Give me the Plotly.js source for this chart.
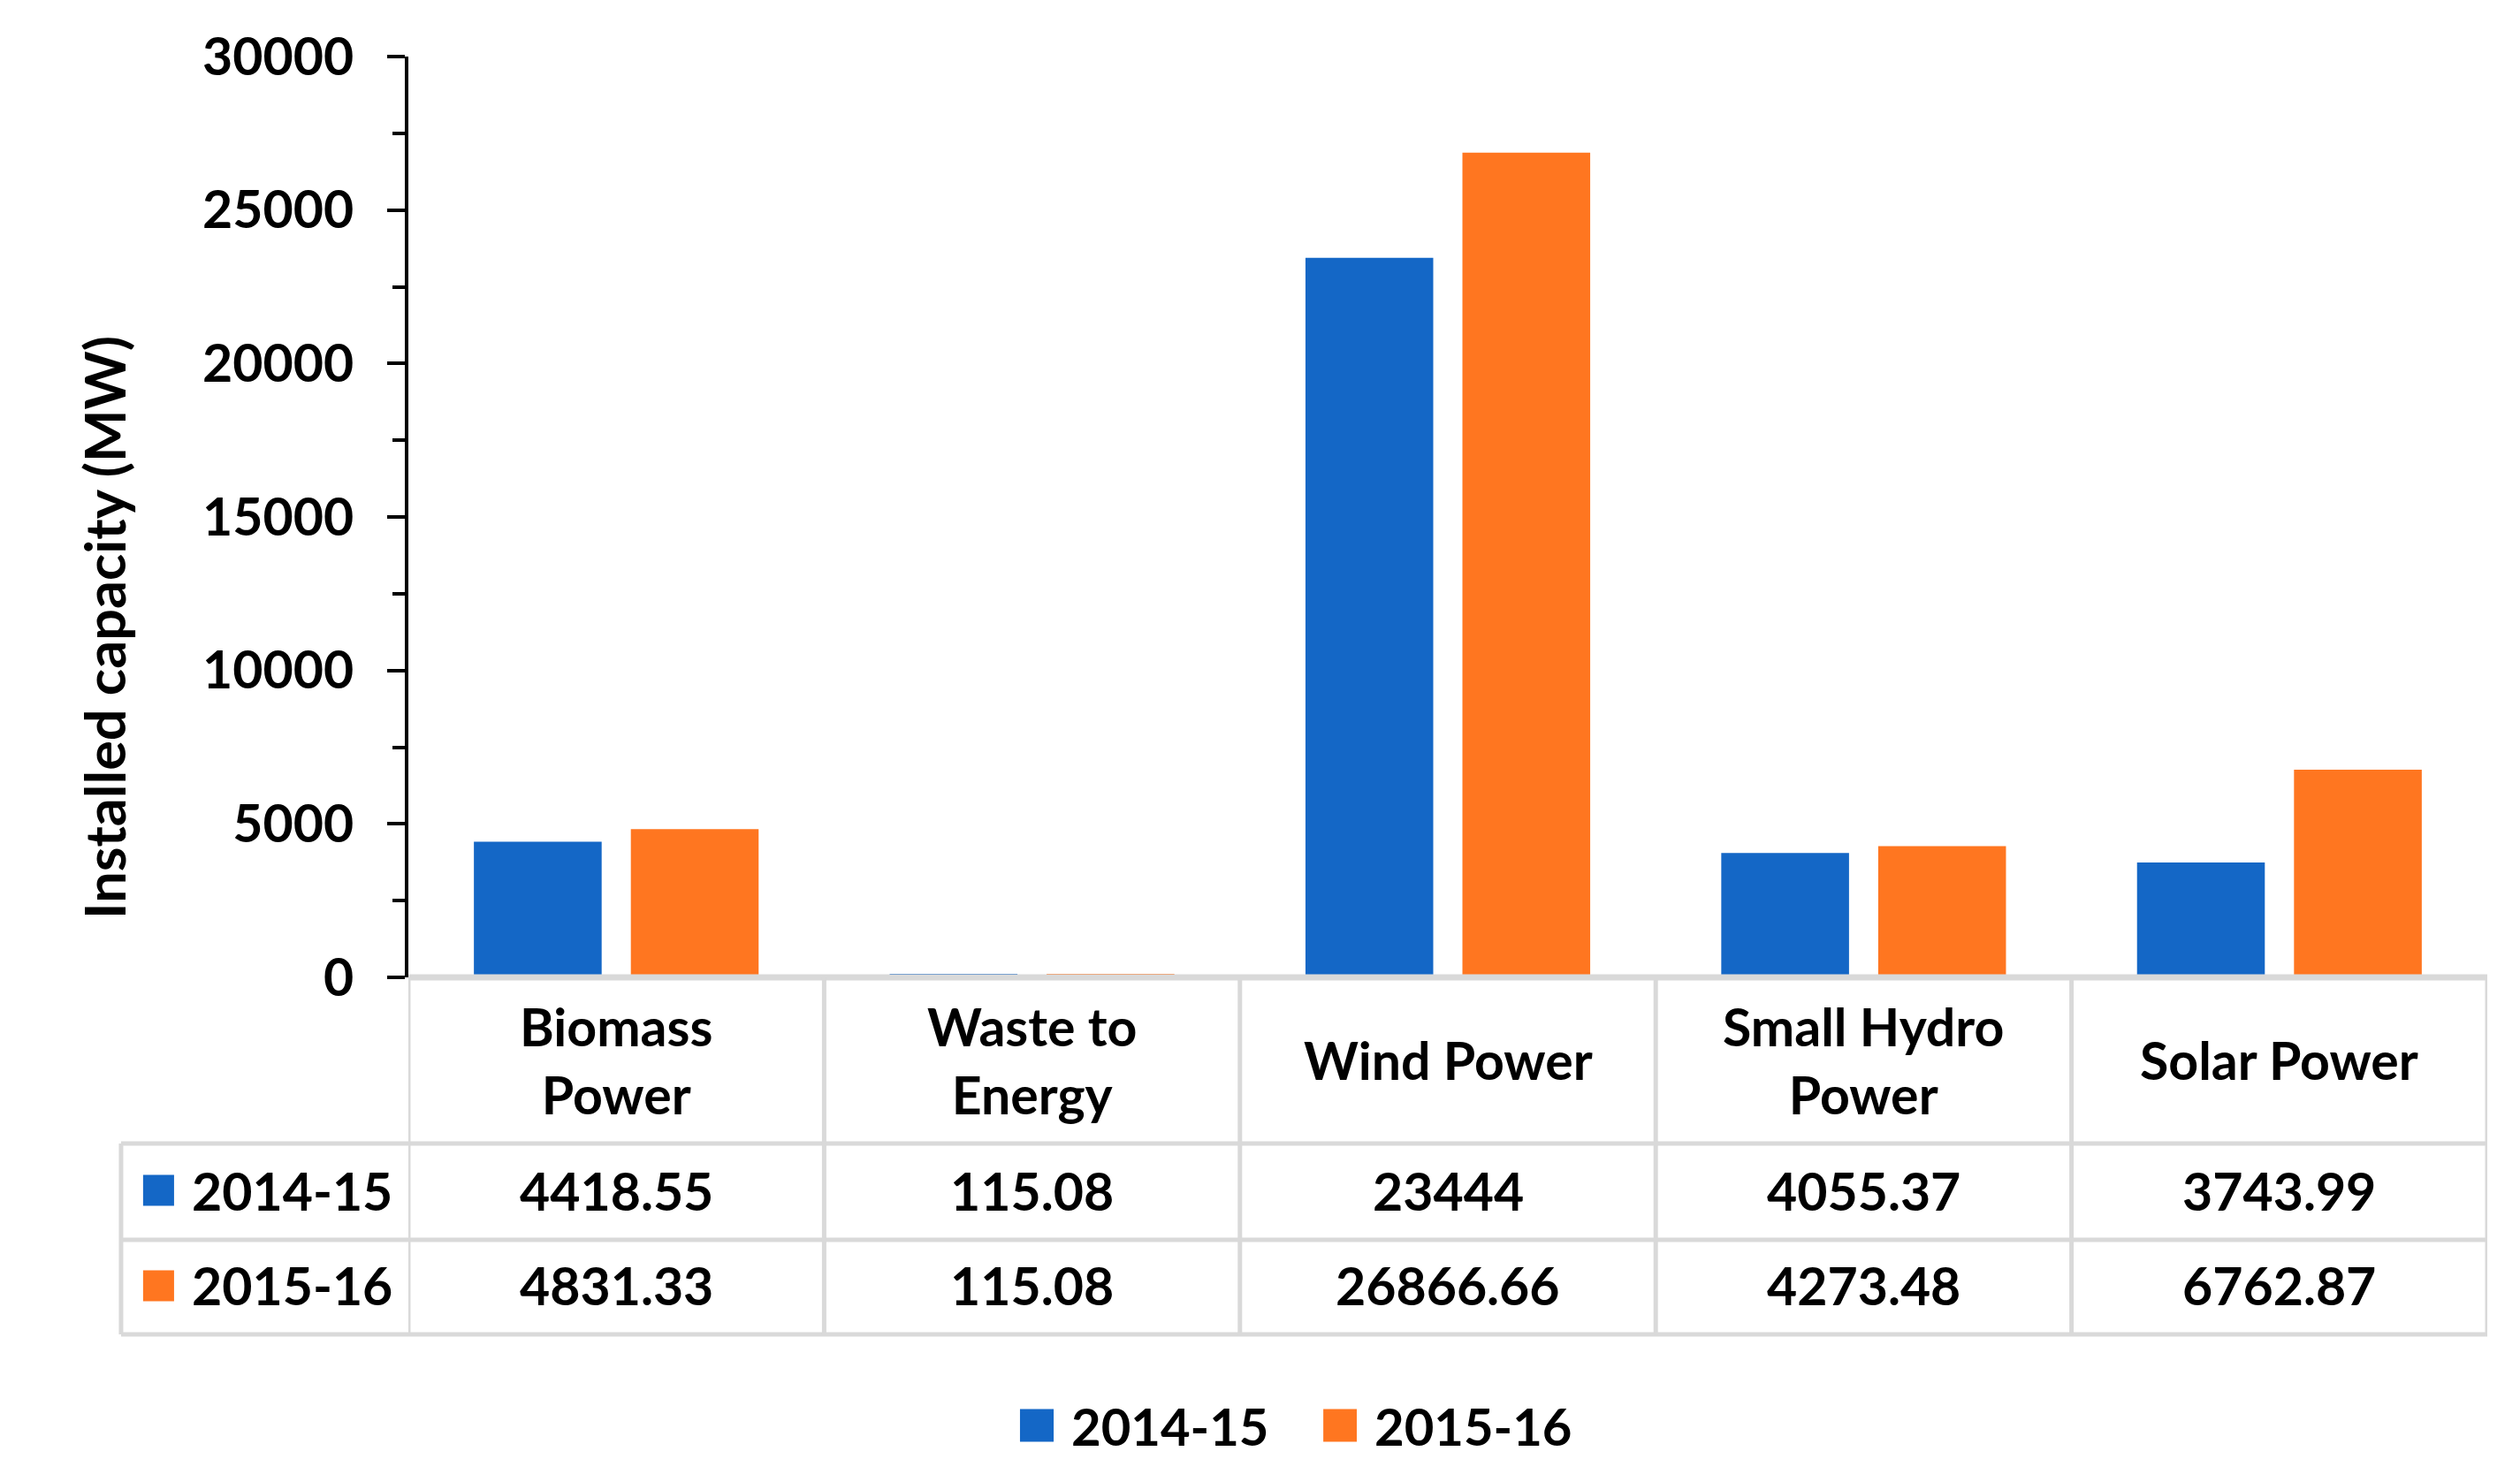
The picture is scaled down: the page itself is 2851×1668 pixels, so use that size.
<!DOCTYPE html>
<html>
<head>
<meta charset="utf-8">
<script src="https://cdn.plot.ly/plotly-3.0.1.min.js"></script>
<style>
  html, body { margin: 0; padding: 0; background: #ffffff; }
  #chart { width: 2851px; height: 1668px; }
</style>
</head>
<body>
<div id="chart"></div>
<script>
// ---- data ----
const categories = ["Biomass Power", "Waste to Energy", "Wind Power", "Small Hydro Power", "Solar Power"];
const categoryLabels = ["Biomass<br>Power", "Waste to<br>Energy", "Wind Power", "Small Hydro<br>Power", "Solar Power"];
const seriesNames = ["2014-15", "2015-16"];
const values2014 = [4418.55, 115.08, 23444, 4055.37, 3743.99];
const values2015 = [4831.33, 115.08, 26866.66, 4273.48, 6762.87];
const yTickValues = [0, 5000, 10000, 15000, 20000, 25000, 30000];
const yTitle = "Installed capacity (MW)";

// ---- styles ----
const colors = ["#1467c6", "#ff7620"];
const FONT = "Lato, 'Open Sans', sans-serif";
const txtFont = { family: FONT, size: 59, color: "#000000", weight: 700 };
const legFont = { family: FONT, size: 58, color: "#000000", weight: 700 };
const gridColor = "#d9d9d9";
const gridW = 5;

const seriesValues = [values2014, values2015];
const xIdx = categories.map((c, i) => i);

const traces = seriesNames.map((name, s) => ({
  type: "bar",
  name: name,
  x: xIdx,
  y: seriesValues[s],
  marker: { color: colors[s], line: { width: 0 } },
  showlegend: false,
  hoverinfo: "x+y+name"
}));

// Table geometry (paper units, relative to plot area)
const yHeadMid = -0.0902, yHeadBot = -0.1804;
const yRowMid = [-0.2313, -0.3349];
const yRowBot = [-0.2850, -0.3877];
const xTableLeft = -0.1382;
const xKey0 = -0.1276, xKey1 = -0.1127, xKeyText = -0.1050;
const keyH = 0.0168;

const shapes = [];
const annotations = [];

function hline(x0, x1, xref, y, w) {
  shapes.push({ type: "line", xref: xref, yref: "paper", x0: x0, x1: x1, y0: y, y1: y,
    line: { color: gridColor, width: w || gridW } });
}
function vline(x, xref, y0, y1) {
  shapes.push({ type: "line", xref: xref, yref: "paper", x0: x, x1: x, y0: y0, y1: y1,
    line: { color: gridColor, width: gridW } });
}

// top border (category axis baseline)
hline(-0.5, categories.length - 0.5, "x", 0, 7);
// row lines
[yHeadBot, yRowBot[0], yRowBot[1]].forEach(y => hline(xTableLeft, 1, "paper", y));
// vertical separators
for (let i = 0; i <= categories.length; i++) {
  vline(i - 0.5, "x", 0, yRowBot[1]);
}
vline(xTableLeft, "paper", yHeadBot, yRowBot[1]);

// header labels
categoryLabels.forEach((lab, i) => {
  annotations.push({ xref: "x", yref: "paper", x: i, y: yHeadMid, text: lab, showarrow: false,
    xanchor: "center", yanchor: "middle", align: "center", font: txtFont });
});

// rows
seriesNames.forEach((name, s) => {
  shapes.push({ type: "rect", xref: "paper", yref: "paper", x0: xKey0, x1: xKey1,
    y0: yRowMid[s] - keyH, y1: yRowMid[s] + keyH, fillcolor: colors[s], line: { width: 0 } });
  annotations.push({ xref: "paper", yref: "paper", x: xKeyText, y: yRowMid[s], text: name,
    showarrow: false, xanchor: "left", yanchor: "middle", font: txtFont });
  seriesValues[s].forEach((v, i) => {
    annotations.push({ xref: "x", yref: "paper", x: i, y: yRowMid[s], text: String(v),
      showarrow: false, xanchor: "center", yanchor: "middle", font: txtFont });
  });
});

// bottom legend
const yLeg = -0.4866;
const legKeyH = 0.0178;
const legKeys = [[0.2942, 0.3104, 0.3180], [0.4401, 0.4562, 0.4639]];
seriesNames.forEach((name, s) => {
  const k = legKeys[s];
  shapes.push({ type: "rect", xref: "paper", yref: "paper", x0: k[0], x1: k[1],
    y0: yLeg - legKeyH, y1: yLeg + legKeyH, fillcolor: colors[s], line: { width: 0 } });
  annotations.push({ xref: "paper", yref: "paper", x: k[2], y: yLeg, text: name,
    showarrow: false, xanchor: "left", yanchor: "middle", font: legFont });
});

// y-axis title
annotations.push({ xref: "paper", yref: "paper", x: -0.1467, y: 0.380, text: yTitle,
  textangle: -90, showarrow: false, xanchor: "center", yanchor: "middle",
  font: { family: FONT, size: 63, color: "#000000", weight: 700 } });

const layout = {
  width: 2851, height: 1668,
  margin: { l: 462, r: 37, t: 64, b: 562 },
  paper_bgcolor: "#ffffff", plot_bgcolor: "#ffffff",
  barmode: "group", bargap: 0.245, bargroupgap: 0.186,
  showlegend: false,
  xaxis: {
    type: "linear", range: [-0.5, categories.length - 0.5],
    showticklabels: false, ticks: "", showgrid: false, zeroline: false, showline: false, fixedrange: true
  },
  yaxis: {
    range: [0, 30000], tickvals: yTickValues, ticktext: yTickValues.map(String),
    ticks: "outside", ticklen: 20, tickwidth: 4, tickcolor: "#000000",
    minor: { ticks: "outside", ticklen: 14, tickwidth: 4, tickcolor: "#000000", dtick: 2500, showgrid: false },
    showline: true, linecolor: "#000000", linewidth: 4,
    showgrid: false, zeroline: false,
    tickfont: { family: FONT, size: 59, color: "#000000", weight: 700 }, ticklabelstandoff: 26
  },
  shapes: shapes,
  annotations: annotations
};

Plotly.newPlot("chart", traces, layout, { staticPlot: true, displayModeBar: false });
</script>
</body>
</html>
